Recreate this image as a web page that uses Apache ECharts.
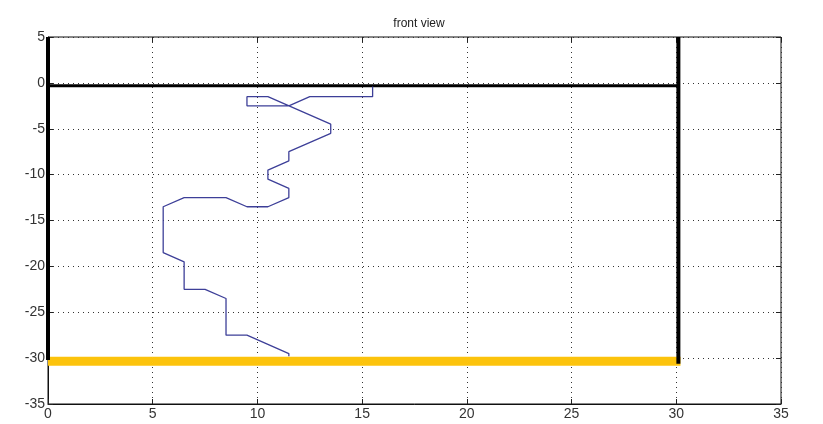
<!DOCTYPE html>
<html>
<head>
<meta charset="utf-8">
<script src="https://cdn.jsdelivr.net/npm/echarts@6/dist/echarts.min.js"></script>
<style>
  html, body { margin: 0; padding: 0; background: #fff; }
  #chart { width: 823px; height: 424px; }
</style>
</head>
<body>
<div id="chart"></div>
<script>
// path of the blue trace (x, depth)
const traceX = [15.5, 15.5, 12.5, 11.5, 9.5, 9.5, 10.5, 13.5, 13.5, 11.5, 11.5, 10.5, 10.5, 11.5, 11.5, 10.5, 9.5, 8.5, 6.5, 5.5, 5.5, 6.5, 6.5, 7.5, 8.5, 8.5, 9.5, 11.5, 11.5];
const traceY = [-0.4, -1.5, -1.5, -2.5, -2.5, -1.5, -1.5, -4.5, -5.5, -7.5, -8.5, -9.5, -10.5, -11.5, -12.5, -13.5, -13.5, -12.5, -12.5, -13.5, -18.5, -19.5, -22.5, -22.5, -23.5, -27.5, -27.5, -29.5, -29.8];

// black frame lines
const leftWall = [[0, 5], [0, -30.2]];
const topEdge = [[0, -0.3], [30.1, -0.3]];
const rightWall = [[30.1, 5], [30.1, -30.6]];
// yellow floor
const floorLine = [[0, -30.35], [30.2, -30.35]];

const xTicks = [0, 5, 10, 15, 20, 25, 30, 35];
const yTicks = [5, 0, -5, -10, -15, -20, -25, -30, -35];

const chart = echarts.init(document.getElementById("chart"));

const labelStyle = { color: "#333", fontSize: 14, fontFamily: "Liberation Sans, Arial, sans-serif" };
const gridLine = { show: true, lineStyle: { color: "#333", type: [1, 4], width: 1 } };
const tick = { show: true, inside: true, length: 5, lineStyle: { color: "#222" } };

chart.setOption({
  animation: false,
  title: {
    text: "front view",
    left: 414, top: 13, textAlign: "center",
    textStyle: { fontSize: 12, fontWeight: "normal", color: "#222", fontFamily: "Liberation Sans, Arial, sans-serif" },
  },
  grid: {
    left: 48, right: 42, top: 37, bottom: 20,
    show: true, borderColor: "#111", borderWidth: 1,
  },
  xAxis: [
    {
      type: "value", min: 0, max: 35, interval: 5,
      axisLine: { show: true, onZero: false, lineStyle: { color: "#111" } },
      axisTick: tick, splitLine: gridLine,
      axisLabel: Object.assign({ margin: 3, formatter: (v) => (xTicks.includes(v) ? String(v) : "") }, labelStyle),
    },
    {
      type: "value", min: 0, max: 35, interval: 5, position: "top",
      axisLine: { show: false, onZero: false }, axisTick: tick, splitLine: { show: false }, axisLabel: { show: false },
    },
  ],
  yAxis: [
    {
      type: "value", min: -35, max: 5, interval: 5,
      axisLine: { show: true, onZero: false, lineStyle: { color: "#111" } },
      axisTick: tick, splitLine: gridLine,
      axisLabel: Object.assign({ margin: 3, formatter: (v) => (yTicks.includes(v) ? String(v) : "") }, labelStyle),
    },
    {
      type: "value", min: -35, max: 5, interval: 5, position: "right",
      axisLine: { show: false, onZero: false }, axisTick: tick, splitLine: { show: false }, axisLabel: { show: false },
    },
  ],
  series: [
    {
      type: "line", data: floorLine, symbol: "none", z: 3,
      lineStyle: { color: "#fcc30c", width: 9, cap: "butt" },
    },
    {
      type: "line", data: leftWall, symbol: "none", z: 4,
      lineStyle: { color: "#000", width: 4 },
    },
    {
      type: "line", data: topEdge, symbol: "none", z: 4,
      lineStyle: { color: "#000", width: 3 },
    },
    {
      type: "line", data: rightWall, symbol: "none", z: 4,
      lineStyle: { color: "#000", width: 4 },
    },
    {
      type: "line", data: traceX.map((x, i) => [x, traceY[i]]), symbol: "none", z: 5,
      lineStyle: { color: "#3d3f98", width: 1.3 },
    },
  ],
});
</script>
</body>
</html>
